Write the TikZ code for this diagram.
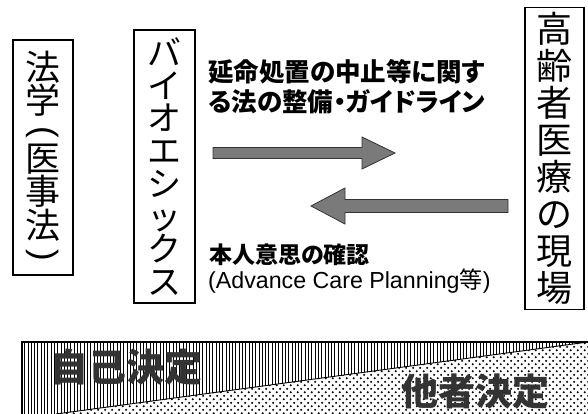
\documentclass[tikz,border=0pt]{standalone}
\usepackage{fontspec}
\usetikzlibrary{patterns}
\newfontfamily\jp[RawFeature=+palt]{Noto Sans CJK JP}
\newfontfamily\jpv{Noto Sans CJK JP}
\newfontfamily\latn{Liberation Sans}
\newcommand{\vparen}[1]{\rotatebox[origin=c]{-90}{#1}}
\pgfdeclarepatternformonly{refdots}{\pgfqpoint{0pt}{0pt}}{\pgfqpoint{7.4pt}{7.4pt}}{\pgfqpoint{7.4pt}{7.4pt}}{%
  \pgfpathcircle{\pgfqpoint{1.85pt}{1.85pt}}{1.2pt}%
  \pgfpathcircle{\pgfqpoint{5.55pt}{5.55pt}}{1.2pt}%
  \pgfusepath{fill}}
\pgfdeclarepatternformonly{refstripes}{\pgfqpoint{0pt}{-1pt}}{\pgfqpoint{3.3pt}{4pt}}{\pgfqpoint{3.3pt}{3pt}}{%
  \pgfsetlinewidth{1pt}%
  \pgfpathmoveto{\pgfqpoint{1.65pt}{-1pt}}%
  \pgfpathlineto{\pgfqpoint{1.65pt}{4pt}}%
  \pgfusepath{stroke}}
\begin{document}
\begin{tikzpicture}[x=1pt,y=-1pt,
  vbox/.style={draw=black, line width=1.1pt, inner sep=0pt, align=center},
  toptext/.style={anchor=west, align=left, inner sep=0pt},
  blockarrow/.style={fill=black!52, draw=black!80, line width=0.8pt, line join=miter},
  bigword/.style={inner sep=0pt, text=black!80}]
\useasboundingbox (0,0) rectangle (588,414);

% vertical boxes
\node[vbox, minimum width=60pt, minimum height=235pt,
      font=\jpv\fontsize{35}{32}\selectfont] (law) at (43,157.5)
  {法\\学\\[-4pt]{\latn\vparen{(}}\\[-2pt]医\\事\\法\\[-6pt]{\latn\vparen{)}}};
\node[vbox, minimum width=61pt, minimum height=273pt,
      font=\jpv\fontsize{34}{32.7}\selectfont] (bio) at (164.5,166.5)
  {バ\\イ\\オ\\エ\\シ\\ッ\\ク\\ス};
\node[vbox, minimum width=59pt, minimum height=302pt,
      font=\jpv\fontsize{36}{37.1}\selectfont] (field) at (554.5,158.5)
  {高\\齢\\者\\医\\療\\の\\現\\場};

% texts
\node[toptext, font=\jp\bfseries\fontsize{25.5}{30}\selectfont] (law2field) at (208,87)
  {延命処置の中止等に関す\\る法の整備・ガイドライン};
\node[toptext, font=\jp\bfseries\fontsize{23}{26}\selectfont] (will) at (209,255)
  {本人意思の確認};
\node[toptext, font=\latn\fontsize{23.2}{26}\selectfont] (acp) at (208,281)
  {(Advance Care Planning{\jp 等})};

% block arrows
\draw[blockarrow] (213,147.5) -- (362,147.5) -- (362,137) -- (395,153) -- (362,169)
  -- (362,158.5) -- (213,158.5) -- cycle;
\draw[blockarrow] (508,199.5) -- (345,199.5) -- (345,188) -- (311,206) -- (345,224)
  -- (345,212.5) -- (508,212.5) -- cycle;

% bottom band
\coordinate (bl) at (22,414);
\coordinate (tl) at (22,342);
\coordinate (tr) at (588,342);
\coordinate (br) at (588,414);
\coordinate (dg) at (56,414);
\fill[white] (tl) rectangle (br);
\fill[pattern=refstripes, pattern color=black] (tl) -- (tr) -- (dg) -- (bl) -- cycle;
\fill[pattern=refdots, pattern color=black] (tr) -- (br) -- (dg) -- cycle;
\draw[line width=0.9pt] (tr) -- (dg);
\draw[line width=1.2pt] (bl) -- (tl) -- (tr);

\node[bigword, font=\jpv\bfseries\fontsize{38}{38}\selectfont] (self) at (126,367) {自己決定};
\node[bigword, font=\jpv\bfseries\fontsize{37}{37}\selectfont] (other) at (475,392) {他者決定};
\end{tikzpicture}
\end{document}
